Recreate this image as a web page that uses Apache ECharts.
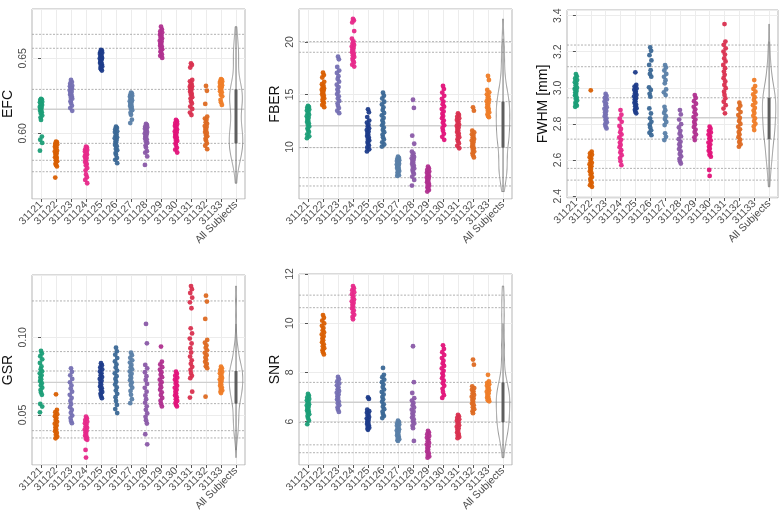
<!DOCTYPE html>
<html><head><meta charset="utf-8">
<script src="https://cdn.jsdelivr.net/npm/echarts@6/dist/echarts.min.js"></script>
<style>html,body{margin:0;padding:0;background:#fff}#c{width:781px;height:516px}</style>
</head><body><div id="c"></div>
<script>
// ---------------- DATA ----------------
const categories = ['31121','31122','31123','31124','31125','31126','31127','31128','31129','31130','31131','31132','31133','All Subjects'];

const efcValues = [
 [0.623,0.6225,0.6222,0.621,0.6207,0.6195,0.619,0.6188,0.6176,0.617,0.6168,0.6155,0.615,0.6141,0.6132,0.6118,0.6105,0.6089,0.5978,0.5957,0.5936,0.5884],
 [0.5944,0.5941,0.5929,0.5925,0.5911,0.5905,0.5899,0.5884,0.5879,0.5866,0.5862,0.5849,0.584,0.5836,0.5821,0.5813,0.5797,0.5789,0.5779,0.5705],
 [0.6356,0.6342,0.6333,0.6318,0.6314,0.6306,0.6299,0.6297,0.6285,0.6277,0.6272,0.6261,0.6258,0.6246,0.6237,0.6231,0.6214,0.6203,0.6184,0.6168,0.615],
 [0.5911,0.5906,0.5893,0.5889,0.5879,0.5873,0.5861,0.5858,0.5846,0.5835,0.583,0.5817,0.5809,0.5795,0.5786,0.5768,0.5752,0.5726,0.5707,0.5689,0.5667],
 [0.6556,0.6551,0.6541,0.6537,0.6529,0.6518,0.6514,0.6503,0.6499,0.6491,0.6483,0.6472,0.6469,0.6461,0.6451,0.6446,0.6436,0.6427,0.6419],
 [0.6044,0.6036,0.6027,0.6013,0.6008,0.5994,0.5987,0.5973,0.5967,0.5955,0.5943,0.5938,0.5922,0.5914,0.5896,0.5887,0.5868,0.5857,0.5836,0.5823,0.5801],
 [0.6271,0.6266,0.6255,0.6251,0.6244,0.6234,0.6231,0.6221,0.6214,0.6209,0.6198,0.6193,0.6182,0.6176,0.6163,0.6154,0.6137,0.6123,0.6091,0.6068],
 [0.6062,0.6056,0.6045,0.6041,0.603,0.6026,0.6014,0.6009,0.5998,0.5994,0.5981,0.5977,0.5964,0.5958,0.5945,0.5936,0.5918,0.5906,0.5881,0.5871,0.5846,0.5789],
 [0.6711,0.6693,0.6679,0.6672,0.6658,0.6652,0.6639,0.6633,0.6618,0.6613,0.6601,0.6597,0.6584,0.6579,0.6566,0.656,0.6546,0.654,0.6525,0.6517,0.6503],
 [0.6089,0.6081,0.6068,0.6062,0.6049,0.6043,0.603,0.6025,0.6012,0.6007,0.5994,0.5989,0.5976,0.5971,0.5956,0.5949,0.5933,0.5922,0.5903,0.5891,0.5872],
 [0.6467,0.6456,0.6439,0.6356,0.6347,0.6333,0.6327,0.6314,0.631,0.6298,0.6294,0.6282,0.6277,0.6263,0.6257,0.6241,0.6232,0.6213,0.6199,0.6178,0.6162,0.6138,0.6122],
 [0.6316,0.6284,0.6196,0.6111,0.6098,0.609,0.6073,0.6064,0.6048,0.6042,0.6028,0.6022,0.6008,0.6002,0.5988,0.598,0.5963,0.5952,0.5933,0.5917,0.5894],
 [0.6362,0.6357,0.6348,0.6345,0.6336,0.6333,0.6324,0.6321,0.6311,0.6308,0.6296,0.6292,0.628,0.6274,0.6258,0.6247,0.6223,0.6207,0.6189]
];
const fberValues = [
 [13.92,13.81,13.74,13.58,13.47,13.33,13.18,13.06,12.93,12.78,12.67,12.52,12.38,12.27,12.11,11.96,11.78,11.62,11.43,11.21,11.02,10.84],
 [17.08,16.85,16.62,16.21,15.98,15.84,15.71,15.58,15.46,15.37,15.25,15.14,15.02,14.91,14.78,14.63,14.51,14.36,14.18,14.01,13.79],
 [18.6,18.35,17.62,17.28,17.05,16.74,16.48,16.22,15.93,15.71,15.48,15.26,15.04,14.83,14.61,14.39,14.15,13.92,13.71,13.45,13.22],
 [22.19,22.05,21.86,21.04,20.31,20.05,19.88,19.72,19.58,19.43,19.31,19.17,19.02,18.88,18.73,18.58,18.41,18.24,18.05,17.84,17.66],
 [13.59,13.31,12.85,12.52,12.31,12.12,11.94,11.78,11.61,11.47,11.33,11.18,11.04,10.91,10.76,10.62,10.47,10.31,10.14,9.96,9.78,9.58],
 [15.17,14.88,14.62,14.31,14.05,13.78,13.52,13.24,13.01,12.77,12.53,12.29,12.06,11.85,11.63,11.41,11.17,10.93,10.71,10.45,10.24,10.04],
 [9.08,8.96,8.85,8.74,8.66,8.58,8.49,8.41,8.33,8.25,8.16,8.08,7.99,7.91,7.82,7.71,7.58,7.44,7.32,7.25],
 [14.5,13.72,11.08,10.31,9.56,9.38,9.21,9.05,8.92,8.79,8.66,8.52,8.38,8.24,8.11,7.96,7.81,7.63,7.44,7.18,6.87,6.33],
 [8.13,7.96,7.82,7.68,7.55,7.43,7.31,7.2,7.09,6.98,6.87,6.76,6.65,6.53,6.42,6.3,6.17,6.03,5.9,5.76],
 [15.81,15.52,15.18,14.87,14.59,14.33,14.08,13.84,13.61,13.39,13.17,12.95,12.74,12.52,12.3,12.06,11.82,11.55,11.26,10.97,10.68],
 [13.21,13.05,12.89,12.74,12.58,12.43,12.29,12.14,12.0,11.86,11.71,11.57,11.42,11.27,11.1,10.93,10.75,10.56,10.34,10.11,9.88],
 [13.78,13.46,11.56,11.38,11.21,11.05,10.9,10.76,10.61,10.47,10.32,10.18,10.03,9.88,9.73,9.57,9.41,9.22,9.01],
 [16.76,16.38,15.43,15.21,15.02,14.84,14.67,14.51,14.36,14.21,14.06,13.91,13.76,13.61,13.45,13.29,13.12,12.96,12.84]
];
const fwhmValues = [
 [3.076,3.064,3.052,3.043,3.031,3.022,3.013,3.001,2.994,2.983,2.975,2.966,2.958,2.947,2.939,2.93,2.918,2.909,2.901,2.895],
 [2.986,2.646,2.637,2.629,2.616,2.608,2.596,2.585,2.577,2.566,2.559,2.547,2.538,2.527,2.519,2.506,2.495,2.482,2.473,2.461,2.452],
 [2.966,2.955,2.944,2.936,2.924,2.913,2.905,2.893,2.884,2.872,2.864,2.852,2.843,2.831,2.822,2.81,2.799,2.786,2.775],
 [2.877,2.851,2.829,2.812,2.789,2.772,2.754,2.741,2.725,2.712,2.697,2.684,2.671,2.655,2.642,2.627,2.611,2.594,2.572],
 [3.086,3.016,3.007,2.997,2.989,2.978,2.97,2.961,2.953,2.943,2.935,2.924,2.917,2.906,2.898,2.887,2.878,2.868,2.859],
 [3.224,3.205,3.181,3.152,3.127,3.098,3.077,3.062,3.003,2.988,2.967,2.951,2.886,2.858,2.831,2.812,2.796,2.781,2.765,2.751,2.738],
 [3.126,3.112,3.096,3.077,3.061,3.042,3.025,2.991,2.975,2.96,2.895,2.876,2.861,2.843,2.827,2.811,2.794,2.748,2.729,2.711],
 [2.877,2.853,2.824,2.799,2.781,2.762,2.746,2.731,2.716,2.702,2.688,2.675,2.661,2.648,2.634,2.62,2.606,2.593,2.581],
 [2.96,2.944,2.926,2.912,2.895,2.881,2.865,2.852,2.838,2.824,2.811,2.797,2.783,2.769,2.755,2.741,2.726,2.711],
 [2.785,2.774,2.762,2.753,2.741,2.731,2.719,2.708,2.697,2.686,2.674,2.663,2.651,2.64,2.629,2.619,2.545,2.512],
 [3.353,3.256,3.238,3.219,3.201,3.184,3.163,3.146,3.127,3.109,3.09,3.072,3.053,3.035,3.016,2.998,2.979,2.961,2.942,2.923,2.904,2.885,2.859],
 [2.918,2.901,2.884,2.866,2.849,2.833,2.816,2.8,2.785,2.77,2.755,2.741,2.727,2.713,2.7,2.687,2.674],
 [3.043,3.01,2.994,2.979,2.963,2.948,2.933,2.918,2.904,2.889,2.874,2.86,2.845,2.831,2.816,2.801,2.786,2.766]
];
const gsrValues = [
 [0.0912,0.0895,0.0878,0.0858,0.0835,0.0812,0.0795,0.0781,0.0768,0.0755,0.0742,0.073,0.0718,0.0705,0.069,0.0676,0.066,0.0645,0.063,0.0571,0.0554,0.0517],
 [0.0633,0.0532,0.0518,0.0505,0.0492,0.048,0.0468,0.0456,0.0444,0.0432,0.042,0.0408,0.0396,0.0384,0.0372,0.036,0.035],
 [0.08,0.0778,0.0755,0.0732,0.071,0.069,0.067,0.065,0.063,0.061,0.059,0.057,0.055,0.0532,0.0514,0.0496,0.048,0.0462,0.0447],
 [0.0489,0.0478,0.0467,0.0457,0.0447,0.0437,0.0427,0.0417,0.0407,0.0397,0.0387,0.0377,0.0367,0.0357,0.0347,0.034,0.0275,0.0226],
 [0.0833,0.082,0.0806,0.0793,0.078,0.0768,0.0756,0.0744,0.0732,0.072,0.0708,0.0696,0.0684,0.0672,0.066,0.0648,0.0636,0.0622,0.0608],
 [0.0933,0.091,0.0888,0.0866,0.0845,0.0825,0.0805,0.0786,0.0768,0.075,0.0732,0.0714,0.0696,0.0677,0.0657,0.0636,0.0614,0.059,0.0565,0.0538,0.0512],
 [0.0901,0.0885,0.0868,0.0852,0.0837,0.0822,0.0808,0.0794,0.078,0.0766,0.0752,0.0738,0.0724,0.0709,0.0693,0.0676,0.0655,0.063,0.0602,0.0576],
 [0.1086,0.0961,0.0822,0.08,0.0775,0.075,0.0725,0.07,0.0675,0.065,0.0626,0.0602,0.0579,0.0556,0.0533,0.051,0.0488,0.0466,0.0445,0.0376,0.0311],
 [0.094,0.0843,0.0825,0.0808,0.0791,0.0775,0.0759,0.0743,0.0727,0.0711,0.0695,0.0679,0.0663,0.0646,0.0628,0.061,0.0592,0.0573,0.0555],
 [0.0779,0.0766,0.0753,0.074,0.0727,0.0714,0.0701,0.0688,0.0675,0.0662,0.065,0.0638,0.0626,0.0614,0.0602,0.059,0.0578,0.0566,0.0555],
 [0.133,0.131,0.1285,0.1255,0.1225,0.1187,0.1058,0.1025,0.0992,0.096,0.093,0.0902,0.0876,0.0852,0.083,0.081,0.079,0.077,0.0752,0.0737,0.065,0.0612],
 [0.1268,0.123,0.1118,0.0983,0.0965,0.0948,0.0932,0.0916,0.09,0.0885,0.087,0.0856,0.0842,0.0828,0.0814,0.0801,0.0618],
 [0.0811,0.08,0.0789,0.0778,0.0768,0.0758,0.0748,0.0738,0.0728,0.0718,0.0708,0.0698,0.0688,0.0678,0.0668,0.0658,0.0649,0.0641]
];
const snrValues = [
 [7.12,7.05,6.98,6.92,6.86,6.8,6.75,6.7,6.65,6.6,6.55,6.5,6.45,6.4,6.35,6.29,6.22,6.14,6.04,5.89],
 [10.33,10.22,10.1,9.99,9.89,9.8,9.71,9.62,9.54,9.46,9.38,9.3,9.22,9.14,9.06,8.98,8.9,8.82,8.73],
 [7.81,7.72,7.63,7.55,7.47,7.39,7.31,7.24,7.17,7.1,7.03,6.96,6.89,6.82,6.74,6.66,6.57,6.48,6.39],
 [11.51,11.42,11.34,11.26,11.18,11.1,11.03,10.96,10.89,10.82,10.75,10.68,10.6,10.52,10.43,10.34,10.25,10.16],
 [6.98,6.92,6.48,6.42,6.36,6.3,6.24,6.18,6.12,6.06,6.0,5.95,5.9,5.85,5.8,5.75,5.7,5.66],
 [8.18,7.9,7.8,7.7,7.6,7.5,7.4,7.3,7.2,7.1,7.0,6.9,6.8,6.7,6.6,6.5,6.4,6.3,6.22,6.14],
 [6.03,5.98,5.93,5.88,5.83,5.78,5.73,5.68,5.63,5.58,5.53,5.48,5.43,5.38,5.33,5.28,5.24,5.21],
 [9.06,7.6,7.16,6.95,6.85,6.75,6.66,6.57,6.48,6.4,6.32,6.24,6.16,6.08,6.0,5.92,5.83,5.73,5.21],
 [5.62,5.55,5.48,5.41,5.34,5.27,5.2,5.13,5.06,4.99,4.92,4.85,4.78,4.71,4.64,4.58,4.53],
 [9.1,8.95,8.82,8.7,8.58,8.47,8.36,8.26,8.16,8.06,7.96,7.86,7.76,7.66,7.56,7.45,7.33,7.2,7.07,6.96],
 [6.27,6.21,6.15,6.09,6.03,5.97,5.91,5.85,5.79,5.73,5.67,5.61,5.55,5.49,5.43,5.37,5.32],
 [8.52,8.31,7.43,7.36,7.29,7.22,7.15,7.08,7.01,6.94,6.87,6.8,6.73,6.66,6.58,6.5,6.42,6.34],
 [7.9,7.63,7.57,7.51,7.45,7.39,7.33,7.27,7.21,7.15,7.09,7.03,6.97,6.91,6.86,6.82]
];

// horizontal reference lines (top to bottom), index 3 = median, 2/4 = quartiles
const efcLines  = [0.666, 0.6567, 0.6293, 0.616, 0.5933, 0.582, 0.5744];
const fberLines = [20.03, 19.02, 14.32, 12.03, 9.94, 7.08, 6.29];
const fwhmLines = [3.237, 3.117, 2.945, 2.834, 2.716, 2.554, 2.489];
const gsrLines  = [0.1234, 0.0908, 0.0783, 0.071, 0.0573, 0.0399, 0.0352];
const snrLines  = [11.14, 10.63, 7.59, 6.78, 5.97, 5.05, 4.73];

// ---------------- STYLE / LAYOUT ----------------
const colors = ['#1b9e77','#d95f02','#7570b3','#e7298a','#1d3c8a','#3b6896','#5a80a8','#8a5aa8','#b0308f','#e2137a','#d9304f','#dd6a22','#ef7d28'];
const JITTER = [0, 0.06, -0.05, 0.08, -0.07, 0.03, -0.02, 0.07, -0.08, 0.04, -0.04, 0.01, -0.06, 0.05, -0.01, 0.08, -0.03];
const FONT = '"Liberation Sans", Arial, Helvetica, sans-serif';

const panels = [
  {name:'EFC', values:efcValues, lines:efcLines, min:0.5562, max:0.6829, step:0.05, digits:2, showMin:false, showMax:false, left:32, top:9, width:213, height:190},
  {name:'FBER', values:fberValues, lines:fberLines, min:5.05, max:23.14, step:5, digits:0, showMin:false, showMax:false, left:299, top:9, width:213, height:190},
  {name:'FWHM [mm]', values:fwhmValues, lines:fwhmLines, min:2.39, max:3.431, step:0.2, digits:1, showMin:false, showMax:false, left:567, top:10, width:211, height:188},
  {name:'GSR', values:gsrValues, lines:gsrLines, min:0.0178, max:0.1401, step:0.05, digits:2, showMin:false, showMax:false, left:32, top:275, width:213, height:190},
  {name:'SNR', values:snrValues, lines:snrLines, min:4.23, max:12, step:2, digits:0, showMin:false, showMax:true, left:299, top:274, width:213, height:191}
];

function quantile(sorted, q) {
  const pos = (sorted.length - 1) * q, lo = Math.floor(pos), hi = Math.ceil(pos);
  return sorted[lo] + (sorted[hi] - sorted[lo]) * (pos - lo);
}
function violinShape(all) {
  const s = all.slice().sort((a,b)=>a-b), n = s.length;
  const mean = s.reduce((a,b)=>a+b,0)/n;
  const sd = Math.sqrt(s.reduce((a,b)=>a+(b-mean)*(b-mean),0)/(n-1));
  const iqr = quantile(s,0.75) - quantile(s,0.25);
  const bw = 0.9 * Math.min(sd, iqr/1.34) * Math.pow(n, -0.2);
  const lo = s[0], hi = s[n-1], N = 160, ys = [], ds = [];
  for (let i = 0; i <= N; i++) {
    const y = lo + (hi - lo) * i / N;
    let d = 0;
    for (const v of s) { const z = (y - v)/bw; d += Math.exp(-0.5*z*z); }
    ys.push(y); ds.push(d);
  }
  const dmax = Math.max(...ds);
  const right = ys.map((y,i)=>[13 + 0.45*ds[i]/dmax, y]);
  const left = ys.map((y,i)=>[13 - 0.45*ds[i]/dmax, y]).reverse();
  return {poly: right.concat(left), sorted: s};
}

const grid = [], xAxis = [], yAxis = [], series = [];
panels.forEach((p, pi) => {
  const gi = grid.length;
  const u = p.width / 14.2;
  grid.push({left:p.left, top:p.top, width:p.width, height:p.height, show:true, borderColor:'#b5b5b5', borderWidth:1, backgroundColor:'transparent'});
  grid.push({left:p.left + 0.6*u, top:p.top, width:13*u, height:p.height, show:false});
  xAxis.push({gridIndex:gi, type:'value', min:-0.6, max:13.6, show:false});
  xAxis.push({gridIndex:gi+1, type:'category', data:categories, boundaryGap:false,
    axisLine:{show:false}, axisTick:{show:true, length:3, lineStyle:{color:'#555'}},
    axisLabel:{rotate:45, interval:0, fontSize:10.5, color:'#4d4d4d', margin:4, fontFamily:FONT},
    splitLine:{show:true, lineStyle:{color:'#ececec', width:1}}});
  yAxis.push({gridIndex:gi, type:'value', min:p.min, max:p.max, minInterval:p.step, maxInterval:p.step,
    axisLine:{show:false}, axisTick:{show:true, length:3, lineStyle:{color:'#555'}},
    axisLabel:{rotate:90, fontSize:10.5, color:'#4d4d4d', margin:3, fontFamily:FONT,
      showMinLabel:p.showMin, showMaxLabel:p.showMax,
      formatter: v => v.toFixed(p.digits)},
    splitLine:{show:true, lineStyle:{color:'#ececec', width:1}},
    name:p.name, nameLocation:'middle', nameGap:17,
    nameTextStyle:{fontSize:14, color:'#111', fontFamily:FONT}});
  yAxis.push({gridIndex:gi+1, type:'value', show:false, min:0, max:1});

  // reference lines
  series.push({type:'custom', xAxisIndex:gi, yAxisIndex:gi, z:2, silent:true,
    data:p.lines.map(v=>[0, v]),
    renderItem:(params, api) => {
      const y = api.value(1);
      const a = api.coord([-0.6, y]), b = api.coord([13.6, y]);
      const med = params.dataIndex === 3;
      return {type:'line', shape:{x1:a[0], y1:a[1], x2:b[0], y2:b[1]},
        style: med ? {stroke:'#cfcfcf', lineWidth:1.4} : {stroke:'#a8a8a8', lineWidth:0.9, lineDash:[2,1.5]}};
    }});

  // subject points
  p.values.forEach((vals, si) => {
    series.push({type:'scatter', name:categories[si], xAxisIndex:gi, yAxisIndex:gi, z:3, silent:true,
      symbolSize:4.8, itemStyle:{color:colors[si], opacity:0.95},
      data: vals.map((v,k)=>[si + JITTER[k % JITTER.length], v])});
  });

  // violin for all subjects
  const all = [].concat(...p.values);
  const vs = violinShape(all);
  const q3 = p.lines[2], q1 = p.lines[4], iqr = q3 - q1;
  const hiW = Math.max(...vs.sorted.filter(v => v <= q3 + 1.5*iqr));
  const loW = Math.min(...vs.sorted.filter(v => v >= q1 - 1.5*iqr));
  series.push({type:'custom', xAxisIndex:gi, yAxisIndex:gi, z:4, silent:true,
    data:[[13, p.lines[3]]],
    renderItem:(params, api) => {
      const pts = vs.poly.map(pt => api.coord(pt));
      const w1 = api.coord([13, hiW]), w2 = api.coord([13, loW]);
      const b1 = api.coord([13, q3]), b2 = api.coord([13, q1]);
      return {type:'group', children:[
        {type:'polygon', shape:{points:pts}, style:{fill:'none', stroke:'#8c8c8c', lineWidth:0.9}},
        {type:'line', shape:{x1:w1[0], y1:w1[1], x2:w2[0], y2:w2[1]}, style:{stroke:'#7a7a7a', lineWidth:1}},
        {type:'rect', shape:{x:b1[0]-1.5, y:b1[1], width:3, height:b2[1]-b1[1]}, style:{fill:'#5e5e5e'}}
      ]};
    }});
});

const chart = echarts.init(document.getElementById('c'), null, {renderer:'canvas'});
chart.setOption({animation:false, backgroundColor:'#fff', textStyle:{fontFamily:FONT}, grid, xAxis, yAxis, series});
</script>
</body></html>
